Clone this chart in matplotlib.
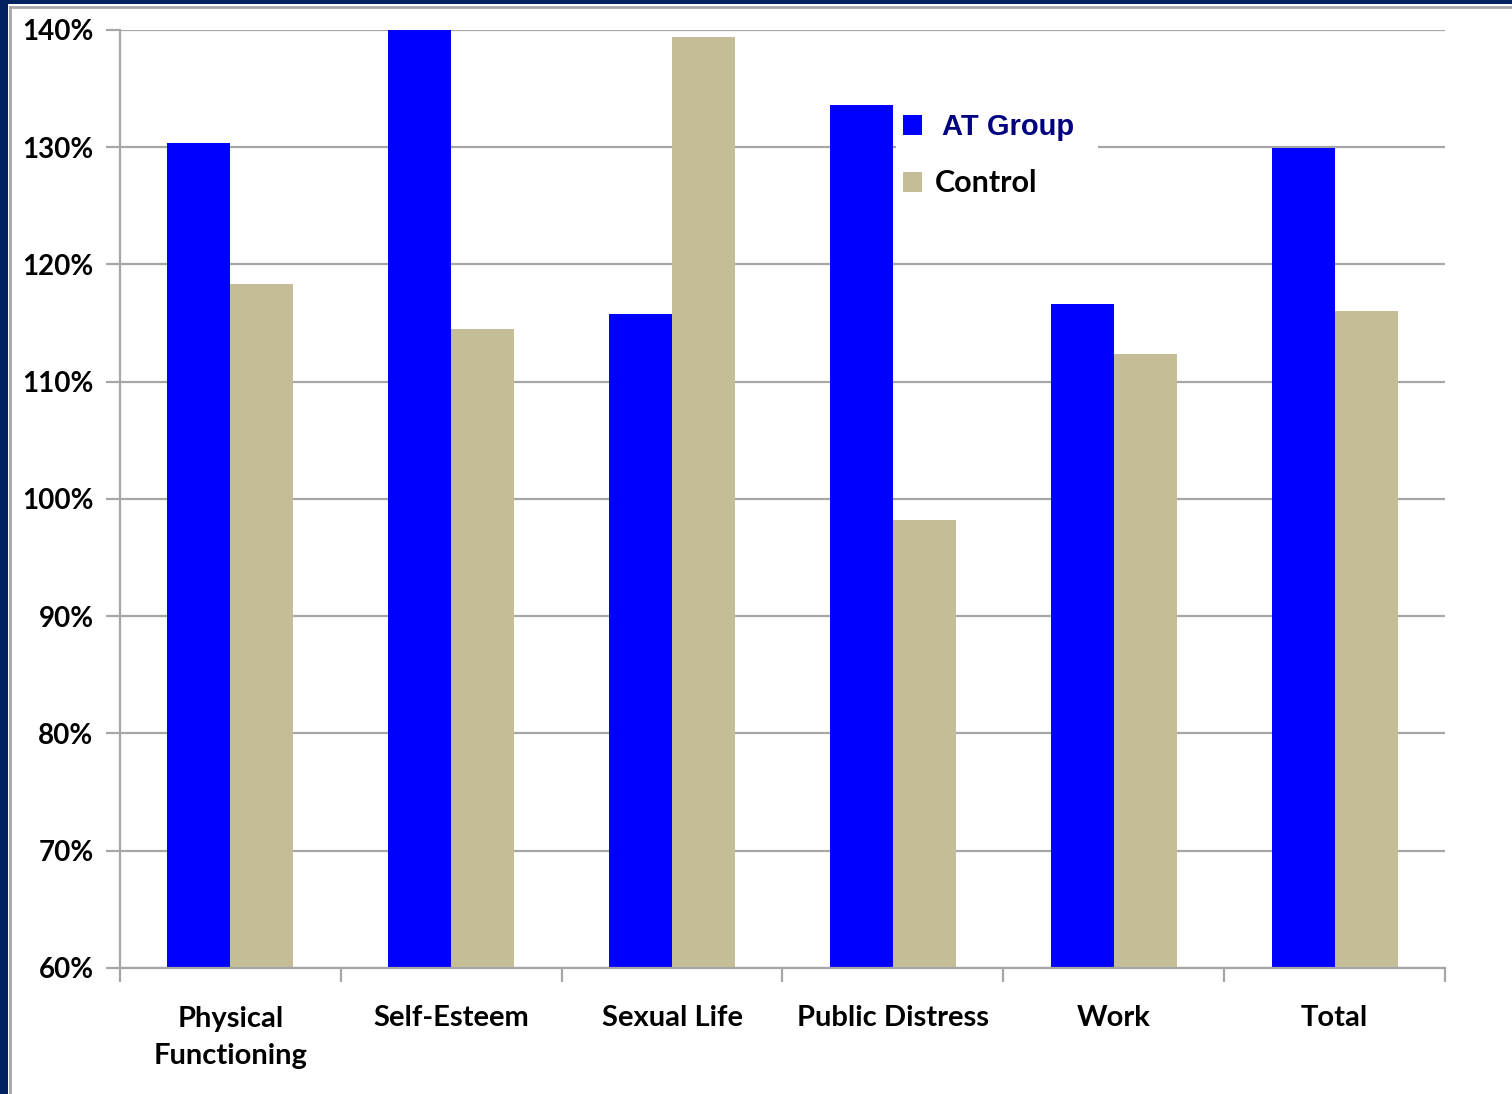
import matplotlib
matplotlib.use("Agg")
import matplotlib.pyplot as plt
import numpy as np
from matplotlib.patches import Patch, Rectangle

categories = ["Physical\nFunctioning", "Self-Esteem", "Sexual Life",
              "Public Distress", "Work", "Total"]
at_group = [130.4, 140.0, 115.8, 133.6, 116.6, 129.9]
control = [118.3, 114.5, 139.4, 98.2, 112.4, 116.0]
y_ticks = [60, 70, 80, 90, 100, 110, 120, 130, 140]
y_tick_labels = [f"{v}%" for v in y_ticks]

BLUE = "#0000FF"
TAN = "#C4BD97"
GRID = "#A6A6A6"
NAVY = "#002060"

fig = plt.figure(figsize=(15.12, 10.94), dpi=100)
fig.patch.set_facecolor("white")

# slide frame: navy band on top and left, thin grey rule inside
fig.patches.append(Rectangle((0, 1 - 4 / 1094), 1, 4 / 1094, transform=fig.transFigure,
                             facecolor=NAVY, edgecolor="none", zorder=0))
fig.patches.append(Rectangle((0, 0), 8 / 1512, 1, transform=fig.transFigure,
                             facecolor=NAVY, edgecolor="none", zorder=0))
fig.lines.append(plt.Line2D([9.5 / 1512, 1], [1 - 6.5 / 1094, 1 - 6.5 / 1094],
                            transform=fig.transFigure, color=GRID, lw=2))
fig.lines.append(plt.Line2D([9.5 / 1512, 9.5 / 1512], [0, 1 - 6.5 / 1094],
                            transform=fig.transFigure, color=GRID, lw=2))

ax = fig.add_axes([120 / 1512, 126 / 1094, 1325 / 1512, 938 / 1094])

x = np.arange(len(categories))
w = 0.285
ax.bar(x - w / 2, [v - 60 for v in at_group], w, bottom=60, color=BLUE, zorder=2)
ax.bar(x + w / 2, [v - 60 for v in control], w, bottom=60, color=TAN, zorder=2)

ax.set_xlim(-0.5, len(categories) - 0.5)
ax.set_ylim(60, 140)
ax.set_yticks(y_ticks)
ax.set_yticklabels(y_tick_labels, fontfamily="Lato", fontweight="bold", fontsize=20)
ax.yaxis.grid(True, color=GRID, lw=1.6, zorder=0)
ax.set_axisbelow(True)

ax.set_xticks(np.arange(len(categories) + 1) - 0.5)
ax.set_xticklabels([])
ax.set_xticks(x, minor=True)
ax.set_xticklabels(categories, minor=True, fontfamily="Lato", fontweight="bold",
                   fontsize=21, linespacing=1.55, va="top")
ax.tick_params(axis="x", which="minor", length=0, pad=27)
ax.tick_params(axis="x", which="major", length=10, width=1.6, color=GRID, direction="out")
ax.tick_params(axis="y", length=10, width=1.6, color=GRID, direction="out", pad=9)

for s in ["top", "right"]:
    ax.spines[s].set_visible(False)
for s in ["left", "bottom"]:
    ax.spines[s].set_color(GRID)
    ax.spines[s].set_linewidth(1.6)

handles = [Patch(facecolor=BLUE), Patch(facecolor=TAN)]
leg = ax.legend(handles, [" AT Group  ", "Control"], loc="upper left",
                bbox_to_anchor=(0.5855, 0.9188), frameon=True, fancybox=False,
                framealpha=1, edgecolor="none", facecolor="white",
                handlelength=0.65, handleheight=0.65, handletextpad=0.45,
                labelspacing=0.95, borderpad=0.25, borderaxespad=0,
                fontsize=21)
leg.set_zorder(5)
t1, t2 = leg.get_texts()
t1.set_fontfamily("Liberation Sans")
t1.set_fontweight("bold")
t1.set_color("#000080")
t2.set_fontfamily("Lato")
t2.set_fontweight("bold")
t2.set_fontsize(22)
t2.set_color("black")

fig.savefig("out.png", dpi=100, facecolor="white")
